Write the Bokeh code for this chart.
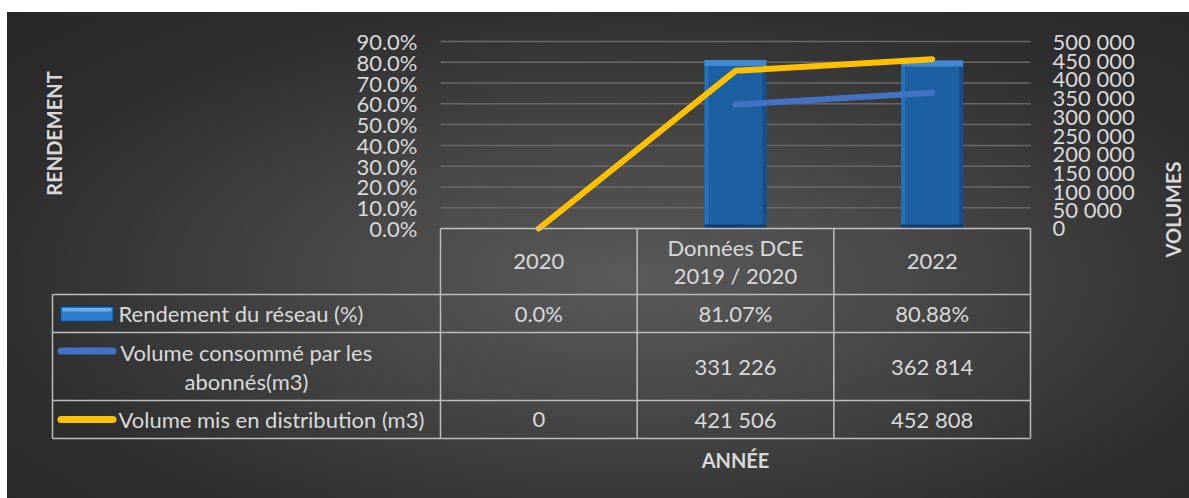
import math
from bokeh.plotting import figure
from bokeh.models import Range1d
from bokeh.core.properties import value
from bokeh.embed import file_html
from bokeh.resources import INLINE

# ---------------- data ----------------
categories = ["2020", "Données DCE\n2019 / 2020", "2022"]
rendement = [0.0, 0.8107, 0.8088]                 # Rendement du réseau (%)
vol_consomme = [None, 331226, 362814]             # Volume consommé par les abonnés (m3)
vol_distribution = [0, 421506, 452808]            # Volume mis en distribution (m3)
series_names = ["Rendement du réseau (%)",
                "Volume consommé par les\nabonnés(m3)",
                "Volume mis en distribution (m3)"]
pct_ticks = [0.0, 0.1, 0.2, 0.3, 0.4, 0.5, 0.6, 0.7, 0.8, 0.9]
pct_tick_labels = ["0.0%", "10.0%", "20.0%", "30.0%", "40.0%", "50.0%",
                   "60.0%", "70.0%", "80.0%", "90.0%"]
vol_ticks = [0, 50000, 100000, 150000, 200000, 250000, 300000, 350000, 400000, 450000, 500000]
vol_tick_labels = ["0", "50 000", "100 000", "150 000", "200 000", "250 000",
                   "300 000", "350 000", "400 000", "450 000", "500 000"]
y_title_left = "RENDEMENT"
y_title_right = "VOLUMES"
x_title = "ANNÉE"

# ---------------- style ----------------
FONT = value("Lato")
TXT = "#d9d9d9"
GRID = "#686868"
TABLE_LINE = "#bdbdbd"
BAR_BODY = "#1c5fa2"
BAR_TOP = "#3f8ad2"
BAR_LEFT = "#2870b8"
BAR_RIGHT = "#184f88"
BAR_BOTTOM = "#143f6c"
BLUE = "#4472c4"
YELLOW = "#ffc000"

W, H = 1189, 498
FL, FR, FT, FB = 440, 1030, 41, 228      # plot area in page pixels
PCT_MAX, VOL_MAX = 0.9, 500000
NCAT = len(categories)


def span_range(lo, hi, p_lo, p_hi, total, flip=False):
    """Range whose [lo, hi] falls on pixels [p_lo, p_hi] of a canvas of size total."""
    k = (hi - lo) / (p_hi - p_lo)
    if flip:   # vertical: pixel grows downward, value grows upward
        return Range1d(lo - (total - p_hi) * k, hi + p_lo * k)
    return Range1d(lo - p_lo * k, hi + (total - p_hi) * k)


p = figure(width=W, height=H, output_backend="svg", toolbar_location=None,
           x_range=span_range(-0.5, NCAT - 0.5, FL, FR, W),
           y_range=span_range(0, PCT_MAX, FT, FB, H, flip=True),
           x_axis_location=None, y_axis_location=None,
           min_border=0, background_fill_color=None, border_fill_color=None,
           outline_line_color=None)
p.grid.visible = False
p.styles = {
    "background": ("linear-gradient(#ffffff, #ffffff) 0 0 / 100% 12px no-repeat, "
                   "linear-gradient(#ffffff, #ffffff) 0 0 / 7px 100% no-repeat, "
                   "radial-gradient(ellipse farthest-corner at 53% 56%, "
                   "#5a5a5a 0%, #464646 35%, #2f2f2f 70%, #262626 100%)"),
}
p.extra_y_ranges = {"vol": span_range(0, VOL_MAX, FT, FB, H, flip=True),
                    "py": Range1d(-H, 0)}          # layout: value = -page_y
p.extra_x_ranges = {"px": Range1d(0, W)}           # layout: value = page_x


def text(xs, ys, texts, xr="default", yr="default", align="center", size="22px",
         bold=False, angle=0.0):
    p.text(x=xs, y=ys, text=texts, x_range_name=xr, y_range_name=yr,
           text_align=align, text_baseline="middle", angle=angle,
           text_font=FONT, text_font_size=size, text_color=TXT,
           text_font_style="bold" if bold else "normal")


# ---------------- gridlines & axes ----------------
p.segment(x0=[-0.5] * len(pct_ticks), x1=[NCAT - 0.5] * len(pct_ticks),
          y0=pct_ticks, y1=pct_ticks, line_color=GRID, line_width=1.5)
text([FL - 23] * len(pct_ticks), pct_ticks, pct_tick_labels, xr="px", align="right")
text([FR + 22] * len(vol_ticks), vol_ticks, vol_tick_labels, xr="px", yr="vol",
     align="left")

# ---------------- bars (with bevel look) ----------------
idx = list(range(NCAT))
bw = 0.315
dpy = PCT_MAX / (FB - FT)       # data units per pixel (y)
dpx = NCAT / (FR - FL)          # data units per pixel (x)
ew = 4 * dpx
p.vbar(x=idx, top=rendement, width=bw, fill_color=BAR_BODY, line_color=None)
p.vbar(x=[i - bw / 2 + ew / 2 for i in idx], top=rendement, width=ew,
       fill_color=BAR_LEFT, line_color=None)
p.vbar(x=[i + bw / 2 - ew / 2 for i in idx], top=rendement, width=ew,
       fill_color=BAR_RIGHT, line_color=None)
p.vbar(x=idx, top=[min(r, 4 * dpy) for r in rendement], bottom=0, width=bw,
       fill_color=BAR_BOTTOM, line_color=None)
p.vbar(x=idx, top=rendement, bottom=[max(r - 6 * dpy, 0) for r in rendement], width=bw,
       fill_color=BAR_TOP, line_color=None)

# ---------------- lines ----------------
nan = float("nan")
p.line(x=idx, y=[nan if v is None else v for v in vol_consomme], y_range_name="vol",
       line_color=BLUE, line_width=6, line_cap="round")
p.line(x=idx, y=vol_distribution, y_range_name="vol",
       line_color=YELLOW, line_width=6, line_cap="round")

# ---------------- data table ----------------
ROW_EDGES = [FB, 294, 332, 400, 438]      # page-y of table row borders
LEG_L = 52                                # page-x of legend column left border
h_y = [-y for y in ROW_EDGES]
p.segment(x0=[-0.5] * len(h_y), x1=[NCAT - 0.5] * len(h_y), y0=h_y, y1=h_y,
          y_range_name="py", line_color=TABLE_LINE, line_width=1.5)
v_x = [i - 0.5 for i in range(NCAT + 1)]
p.segment(x0=v_x, x1=v_x, y0=[-ROW_EDGES[0]] * len(v_x), y1=[-ROW_EDGES[-1]] * len(v_x),
          y_range_name="py", line_color=TABLE_LINE, line_width=1.5)
lh_y = [-y for y in ROW_EDGES[1:]]
p.segment(x0=[LEG_L] * len(lh_y), x1=[FL] * len(lh_y), y0=lh_y, y1=lh_y,
          x_range_name="px", y_range_name="py", line_color=TABLE_LINE, line_width=1.5)
p.segment(x0=[LEG_L], x1=[LEG_L], y0=[-ROW_EDGES[1]], y1=[-ROW_EDGES[-1]],
          x_range_name="px", y_range_name="py", line_color=TABLE_LINE, line_width=1.5)

# header (categories), possibly two lines
hx, hy, ht = [], [], []
for i, c in zip(idx, categories):
    lines = c.split("\n")
    for k, ln in enumerate(lines):
        hx.append(i)
        hy.append(-(261 + (k - (len(lines) - 1) / 2) * 28))
        ht.append(ln)
text(hx, hy, ht, yr="py")


def fmt_pct(v):
    return f"{v * 100:.1f}%" if v == 0 else f"{v * 100:.2f}%"


def fmt_vol(v):
    return "" if v is None else f"{v:,}".replace(",", " ")


ROW_Y = [313, 366, 419]
text(idx, [-ROW_Y[0]] * NCAT, [fmt_pct(v) for v in rendement], yr="py")
text(idx, [-ROW_Y[1]] * NCAT, [fmt_vol(v) for v in vol_consomme], yr="py")
text(idx, [-ROW_Y[2]] * NCAT, [fmt_vol(v) for v in vol_distribution], yr="py")

# legend names
text([118], [-ROW_Y[0]], [series_names[0]], xr="px", yr="py", align="left")
l2 = series_names[1].split("\n")
text([246] * len(l2), [-(ROW_Y[1] - 14.5), -(ROW_Y[1] + 14.5)], l2, xr="px", yr="py")
text([118], [-ROW_Y[2]], [series_names[2]], xr="px", yr="py", align="left")

# legend keys
p.quad(left=[60], right=[113], top=[-306], bottom=[-321], x_range_name="px",
       y_range_name="py", fill_color="#2e7dcc", line_color="#163f6b", line_width=1.5)
p.quad(left=[62], right=[111], top=[-307.5], bottom=[-311], x_range_name="px",
       y_range_name="py", fill_color="#66afee", line_color=None)
p.segment(x0=[60.5], x1=[112.5], y0=[-350.5], y1=[-350.5], x_range_name="px",
          y_range_name="py", line_color=BLUE, line_width=7, line_cap="round")
p.segment(x0=[60.5], x1=[112.5], y0=[-419], y1=[-419], x_range_name="px",
          y_range_name="py", line_color=YELLOW, line_width=7, line_cap="round")

# axis titles
text([53], [-133], [y_title_left], xr="px", yr="py", size="20px", bold=True,
     angle=math.pi / 2)
text([1172], [-209], [y_title_right], xr="px", yr="py", size="20px", bold=True,
     angle=math.pi / 2)
text([(NCAT - 1) / 2], [-459], [x_title], yr="py", size="20px", bold=True)

open("out.html", "w").write(file_html(p, INLINE))
